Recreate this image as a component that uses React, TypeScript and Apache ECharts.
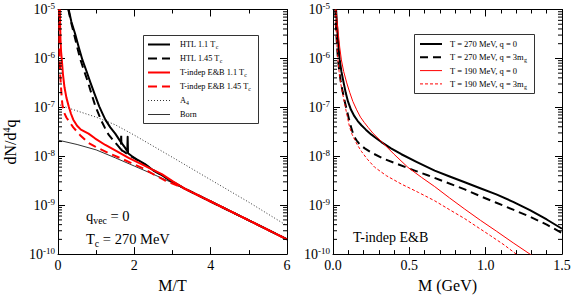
import React, { useEffect, useRef } from 'react';
import * as echarts from 'echarts';

const FONT = "'Liberation Serif','Times New Roman',Times,serif";

// ---------- Left panel: x = M/T, y = dN/d^4q ----------
const htl11: [number, number][] = [
  [0.28, 1.0e-5], [0.35, 5.6e-6], [0.45, 3.16e-6], [0.54, 1.74e-6], [0.64, 9.3e-7],
  [0.75, 5.4e-7], [0.85, 3.2e-7], [0.96, 1.86e-7], [1.08, 1.05e-7], [1.16, 7.6e-8],
  [1.24, 5.6e-8], [1.37, 3.9e-8], [1.5, 2.9e-8], [1.63, 2.04e-8], [1.76, 1.48e-8],
  [1.815, 1.26e-8], [1.825, 2.5e-8], [1.835, 1.15e-8], [1.94, 1.0e-8], [2.1, 8.3e-9],
  [2.28, 6.9e-9], [2.5, 5.1e-9], [2.72, 4.1e-9], [3.0, 3.0e-9], [3.33, 2.16e-9],
  [4.0, 1.19e-9], [5.0, 4.9e-10], [6.0, 2.0e-10],
];
const htl145: [number, number][] = [
  [0.27, 1.0e-5], [0.34, 5.6e-6], [0.42, 3.16e-6], [0.5, 1.74e-6], [0.59, 9.3e-7],
  [0.69, 5.4e-7], [0.79, 3.2e-7], [0.88, 1.86e-7], [0.98, 1.05e-7], [1.06, 7.4e-8],
  [1.14, 5.25e-8], [1.23, 3.8e-8], [1.32, 2.8e-8], [1.45, 2.1e-8], [1.59, 1.58e-8],
  [1.65, 1.38e-8], [1.655, 2.9e-8], [1.665, 1.32e-8], [1.72, 1.26e-8], [1.85, 1.07e-8],
  [2.0, 9.1e-9], [2.3, 6.6e-9], [2.5, 5.2e-9], [2.72, 4.1e-9], [3.0, 3.0e-9],
  [3.33, 2.16e-9], [4.0, 1.19e-9], [5.0, 4.9e-10], [6.0, 2.0e-10],
];
const ebTindep11: [number, number][] = [
  [0.05, 1.0e-5], [0.055, 5.0e-6], [0.065, 2.5e-6], [0.08, 1.4e-6], [0.1, 9.3e-7],
  [0.13, 4.7e-7], [0.17, 2.57e-7], [0.22, 1.58e-7], [0.28, 1.05e-7], [0.34, 7.4e-8],
  [0.4, 5.6e-8], [0.5, 4.2e-8], [0.6, 3.5e-8], [0.8, 2.9e-8], [0.976, 2.3e-8],
  [1.24, 1.7e-8], [1.5, 1.32e-8], [1.85, 9.3e-9], [2.2, 6.8e-9], [2.5, 5.2e-9],
  [2.72, 4.3e-9], [3.0, 3.1e-9], [3.33, 2.16e-9], [4.0, 1.19e-9], [5.0, 4.9e-10],
  [6.0, 2.0e-10],
];
const ebTindep145: [number, number][] = [
  [0.03, 1.0e-5], [0.033, 4.0e-6], [0.038, 1.8e-6], [0.045, 9.3e-7], [0.06, 4.5e-7],
  [0.08, 2.5e-7], [0.1, 1.5e-7], [0.12, 1.05e-7], [0.16, 7.8e-8], [0.22, 6.2e-8],
  [0.28, 5.3e-8], [0.4, 3.9e-8], [0.58, 2.7e-8], [0.8, 1.86e-8], [0.976, 1.58e-8],
  [1.32, 1.17e-8], [1.67, 8.9e-9], [2.2, 5.8e-9], [2.8, 3.2e-9], [3.33, 2.16e-9],
  [4.0, 1.19e-9], [5.0, 4.9e-10], [6.0, 2.0e-10],
];
const a4: [number, number][] = [
  [0.05, 1.12e-7], [0.3, 9.5e-8], [1.0, 6.3e-8], [1.5, 4.4e-8], [2.0, 2.7e-8],
  [3.0, 9.5e-9], [4.0, 3.3e-9], [5.0, 1.15e-9], [6.0, 3.8e-10],
];
const born: [number, number][] = [
  [0.0, 2.14e-8], [0.5, 1.74e-8], [1.0, 1.35e-8], [1.5, 9.3e-9], [2.0, 6.3e-9],
  [2.5, 4.27e-9], [3.0, 2.85e-9], [3.33, 2.16e-9], [4.0, 1.19e-9], [5.0, 4.9e-10],
  [6.0, 2.0e-10],
];

// ---------- Right panel: x = M (GeV) ----------
const t270q0: [number, number][] = [
  [0.02, 1.0e-5], [0.025, 5.6e-6], [0.03, 3.16e-6], [0.036, 1.78e-6], [0.044, 9.3e-7],
  [0.055, 5.4e-7], [0.07, 3.16e-7], [0.083, 2.0e-7], [0.098, 1.32e-7], [0.118, 8.9e-8],
  [0.14, 6.6e-8], [0.162, 5.25e-8], [0.186, 4.3e-8], [0.215, 3.5e-8], [0.25, 2.8e-8],
  [0.283, 2.34e-8], [0.317, 1.95e-8], [0.38, 1.45e-8], [0.448, 1.1e-8], [0.55, 7.6e-9],
  [0.666, 5.1e-9], [0.76, 3.9e-9], [0.863, 2.95e-9], [0.96, 2.24e-9], [1.07, 1.66e-9],
  [1.18, 1.17e-9], [1.29, 7.9e-10], [1.4, 5.1e-10], [1.5, 3.3e-10],
];
const t270q3: [number, number][] = [
  [0.015, 1.0e-5], [0.018, 5.6e-6], [0.022, 3.16e-6], [0.027, 1.7e-6], [0.033, 9.3e-7],
  [0.041, 5.6e-7], [0.05, 3.5e-7], [0.063, 2.1e-7], [0.077, 1.32e-7], [0.09, 8.9e-8],
  [0.1, 6.6e-8], [0.11, 4.9e-8], [0.12, 3.8e-8], [0.13, 3.0e-8], [0.14, 2.5e-8],
  [0.155, 2.1e-8], [0.175, 1.74e-8], [0.208, 1.45e-8], [0.26, 1.15e-8], [0.339, 8.7e-9],
  [0.43, 6.8e-9], [0.535, 5.1e-9], [0.62, 4.1e-9], [0.71, 3.2e-9], [0.863, 2.1e-9],
  [0.96, 1.55e-9], [1.07, 1.12e-9], [1.18, 8.1e-10], [1.29, 5.8e-10], [1.4, 4.0e-10],
  [1.5, 2.7e-10],
];
const t190q0: [number, number][] = [
  [0.02, 1.0e-5], [0.027, 5.6e-6], [0.035, 3.16e-6], [0.044, 1.7e-6], [0.055, 9.3e-7],
  [0.07, 5.4e-7], [0.09, 3.16e-7], [0.11, 2.0e-7], [0.13, 1.32e-7], [0.155, 8.9e-8],
  [0.18, 6.3e-8], [0.205, 4.9e-8], [0.23, 3.9e-8], [0.262, 2.95e-8], [0.317, 2.0e-8],
  [0.4, 1.1e-8], [0.49, 5.96e-9], [0.58, 3.7e-9], [0.666, 2.4e-9], [0.763, 1.41e-9],
  [0.863, 8.3e-10], [0.966, 4.9e-10], [1.07, 2.95e-10], [1.18, 1.7e-10], [1.29, 1.0e-10],
  [1.35, 7.4e-11],
];
const t190q3: [number, number][] = [
  [0.015, 1.0e-5], [0.018, 5.6e-6], [0.022, 3.16e-6], [0.027, 1.7e-6], [0.032, 9.3e-7],
  [0.04, 5.4e-7], [0.05, 3.16e-7], [0.062, 2.0e-7], [0.075, 1.26e-7], [0.092, 6.8e-8],
  [0.109, 3.9e-8], [0.125, 2.8e-8], [0.14, 2.24e-8], [0.16, 1.7e-8], [0.186, 1.26e-8],
  [0.225, 8.7e-9], [0.273, 5.96e-9], [0.35, 4.0e-9], [0.448, 2.7e-9], [0.56, 1.82e-9],
  [0.666, 1.23e-9], [0.763, 8.1e-10], [0.863, 5.3e-10], [0.95, 3.5e-10], [1.03, 2.4e-10],
  [1.12, 1.55e-10], [1.2, 1.0e-10], [1.25, 7.6e-11],
];

// axis settings
const yMin = 1e-10;
const yMax = 1e-5;
const leftXMax = 6;
const rightXMax = 1.5;
const decades = [-10, -9, -8, -7, -6];
const minorMultipliers = [2, 3, 4, 5, 6, 7, 8, 9];

const leftLegend = [
  { name: 'HTL 1.1 T', sub: 'c', color: '#000', width: 2, dash: null as number[] | null },
  { name: 'HTL 1.45 T', sub: 'c', color: '#000', width: 2, dash: [9, 5] },
  { name: 'T-indep E&B 1.1 T', sub: 'c', color: '#ff0000', width: 2, dash: null },
  { name: 'T-indep E&B 1.45 T', sub: 'c', color: '#ff0000', width: 2, dash: [9, 5] },
  { name: 'A', sub: '4', color: '#333', width: 1, dash: [1, 2] },
  { name: 'Born', sub: '', color: '#333', width: 1, dash: null },
];
const rightLegend = [
  { name: 'T = 270 MeV, q = 0', sub: '', color: '#000', width: 2, dash: null as number[] | null },
  { name: 'T = 270 MeV, q = 3m', sub: 'g', color: '#000', width: 2, dash: [8, 5] },
  { name: 'T = 190 MeV, q = 0', sub: '', color: '#ff0000', width: 1, dash: null },
  { name: 'T = 190 MeV, q = 3m', sub: 'g', color: '#ff0000', width: 1, dash: [3, 2] },
];

function minorTickValues(): number[] {
  const out: number[] = [];
  decades.forEach((d) => minorMultipliers.forEach((m) => out.push(m * Math.pow(10, d))));
  return out;
}

function xAxisDef(gridIndex: number, position: 'top' | 'bottom', max: number, interval: number, minorSplit: number, showLabel: boolean, name: string, fmt?: (v: number) => string) {
  return {
    type: 'value',
    gridIndex,
    position,
    min: 0,
    max,
    interval,
    axisLine: { show: true, onZero: false, lineStyle: { color: '#000', width: 1 } },
    axisTick: { show: true, inside: true, length: 7, lineStyle: { color: '#000', width: 1 } },
    minorTick: { show: true, splitNumber: minorSplit, length: 4, lineStyle: { color: '#000', width: 1 } },
    splitLine: { show: false },
    minorSplitLine: { show: false },
    axisLabel: {
      show: showLabel,
      color: '#000',
      fontFamily: FONT,
      fontSize: 14,
      margin: 4,
      formatter: fmt,
    },
    name: showLabel ? name : '',
    nameLocation: 'middle',
    nameGap: 19,
    nameTextStyle: { color: '#000', fontFamily: FONT, fontSize: 16 },
  };
}

function yAxisDef(gridIndex: number, position: 'left' | 'right', showLabel: boolean) {
  return {
    type: 'log',
    logBase: 10,
    gridIndex,
    position,
    min: yMin,
    max: yMax,
    splitNumber: 5,
    axisLine: { show: true, onZero: false, lineStyle: { color: '#000', width: 1 } },
    axisTick: { show: true, inside: true, length: 7, lineStyle: { color: '#000', width: 1 } },
    splitLine: { show: false },
    axisLabel: {
      show: showLabel,
      margin: 3,
      formatter: (v: number) => `{b|10}{s|${Math.round(Math.log10(v))}}`,
      rich: {
        b: { fontFamily: FONT, fontSize: 14, color: '#000', lineHeight: 16 },
        s: { fontFamily: FONT, fontSize: 9, color: '#000', lineHeight: 8, verticalAlign: 'top' },
      },
    },
  };
}

function lineSeries(data: [number, number][], idx: number, color: string, width: number, dash: number[] | null) {
  return {
    type: 'line',
    xAxisIndex: idx,
    yAxisIndex: idx,
    data,
    showSymbol: false,
    symbol: 'none',
    smooth: false,
    lineStyle: { color, width, type: dash ? dash : 'solid', join: 'round' },
    silent: true,
    z: 3,
  };
}

function minorTickSeries(idx: number, xMax: number) {
  return {
    type: 'custom',
    coordinateSystem: 'cartesian2d',
    xAxisIndex: idx,
    yAxisIndex: idx,
    silent: true,
    z: 4,
    encode: { x: 0, y: 1 },
    data: minorTickValues().map((v) => [0, v]),
    renderItem: (_p: any, api: any) => {
      const v = api.value(1);
      const l = api.coord([0, v]);
      const r = api.coord([xMax, v]);
      return {
        type: 'group',
        children: [
          { type: 'line', shape: { x1: l[0], y1: l[1], x2: l[0] + 4, y2: l[1] }, style: { stroke: '#000', lineWidth: 1 } },
          { type: 'line', shape: { x1: r[0], y1: r[1], x2: r[0] - 4, y2: r[1] }, style: { stroke: '#000', lineWidth: 1 } },
        ],
      };
    },
  };
}

function legendGraphics(
  items: typeof leftLegend,
  box: { x: number; y: number; w: number; h: number },
  rowY0: number,
  rowStep: number,
  lineX1: number,
  lineX2: number,
  textX: number,
  fontSize: number,
) {
  const els: any[] = [
    {
      type: 'rect',
      z: 100,
      shape: { x: box.x, y: box.y, width: box.w, height: box.h },
      style: { fill: '#fff', stroke: '#333', lineWidth: 1 },
    },
  ];
  items.forEach((it, i) => {
    const y = rowY0 + rowStep * i;
    els.push({
      type: 'line',
      z: 101,
      shape: { x1: lineX1, y1: y, x2: lineX2, y2: y },
      style: { stroke: it.color, lineWidth: it.width, lineDash: it.dash || undefined },
    });
    els.push({
      type: 'text',
      z: 101,
      x: textX,
      y,
      style: {
        text: it.sub ? `{m|${it.name}}{s|${it.sub}}` : `{m|${it.name}}`,
        rich: {
          m: { fontFamily: FONT, fontSize, fill: '#000', lineHeight: fontSize + 3 },
          s: { fontFamily: FONT, fontSize: fontSize * 0.7, fill: '#000', lineHeight: fontSize * 0.6, verticalAlign: 'bottom' },
        },
        verticalAlign: 'middle',
        align: 'left',
      },
    });
  });
  return els;
}

function annotation(x: number, y: number, main: string, sub: string, rest: string, fontSize: number) {
  return {
    type: 'text',
    z: 101,
    x,
    y,
    style: {
      text: sub ? `{m|${main}}{s|${sub}}{m|${rest}}` : `{m|${main}}`,
      rich: {
        m: { fontFamily: FONT, fontSize, fill: '#000', lineHeight: fontSize + 4 },
        s: { fontFamily: FONT, fontSize: fontSize * 0.68, fill: '#000', lineHeight: fontSize * 0.6, verticalAlign: 'bottom' },
      },
      verticalAlign: 'middle',
      align: 'left',
    },
  };
}

export default function App() {
  const ref = useRef<HTMLDivElement>(null);
  useEffect(() => {
    if (!ref.current) return;
    const chart = echarts.init(ref.current, undefined, { renderer: 'svg' });
    const option: any = {
      animation: false,
      backgroundColor: '#fff',
      grid: [
        { left: 58, top: 9.5, width: 229, height: 254 },
        { left: 333, top: 9.5, width: 229, height: 254 },
      ],
      xAxis: [
        xAxisDef(0, 'bottom', leftXMax, 2, 2, true, 'M/T'),
        xAxisDef(1, 'bottom', rightXMax, 0.5, 5, true, 'M (GeV)', (v: number) => v.toFixed(1)),
        xAxisDef(0, 'top', leftXMax, 2, 2, false, ''),
        xAxisDef(1, 'top', rightXMax, 0.5, 5, false, ''),
      ],
      yAxis: [
        yAxisDef(0, 'left', true),
        yAxisDef(1, 'left', true),
        yAxisDef(0, 'right', false),
        yAxisDef(1, 'right', false),
      ],
      series: [
        lineSeries(born, 0, '#333', 1, null),
        lineSeries(a4, 0, '#333', 1, [1, 2]),
        lineSeries(htl11, 0, '#000', 2, null),
        lineSeries(htl145, 0, '#000', 2, [8, 5]),
        lineSeries(ebTindep11, 0, '#ff0000', 2, null),
        lineSeries(ebTindep145, 0, '#ff0000', 2, [8, 5]),
        lineSeries(t270q0, 1, '#000', 2, null),
        lineSeries(t270q3, 1, '#000', 2, [8, 5]),
        lineSeries(t190q0, 1, '#ff0000', 1, null),
        lineSeries(t190q3, 1, '#ff0000', 1, [3, 2]),
        minorTickSeries(0, leftXMax),
        minorTickSeries(1, rightXMax),
      ],
      graphic: [
        {
          type: 'text',
          z: 101,
          x: 10.5,
          y: 142,
          rotation: Math.PI / 2,
          style: {
            text: '{a|dN/d}{s|4}{a|q}',
            rich: {
              a: { fontFamily: FONT, fontSize: 16, fill: '#000', lineHeight: 18 },
              s: { fontFamily: FONT, fontSize: 10, fill: '#000', lineHeight: 8, verticalAlign: 'top' },
            },
            align: 'center',
            verticalAlign: 'middle',
          },
        },
        ...legendGraphics(leftLegend, { x: 143.5, y: 35.5, w: 115, h: 88 }, 44.5, 14, 148, 170, 180, 8.3),
        ...legendGraphics(rightLegend, { x: 414.5, y: 34.5, w: 120, h: 59 }, 44, 13.3, 420, 442, 450, 8.5),
        annotation(86, 216, 'q', 'vec', ' = 0', 14.5),
        annotation(86, 239, 'T', 'c', ' = 270 MeV', 14.5),
        annotation(353, 237, 'T-indep E&B', '', '', 14),
      ],
    };
    chart.setOption(option);
    return () => chart.dispose();
  }, []);
  return (
    <div
      ref={ref}
      style={{ position: 'fixed', left: 0, top: 0, width: 574, height: 298, background: '#fff' }}
    />
  );
}
